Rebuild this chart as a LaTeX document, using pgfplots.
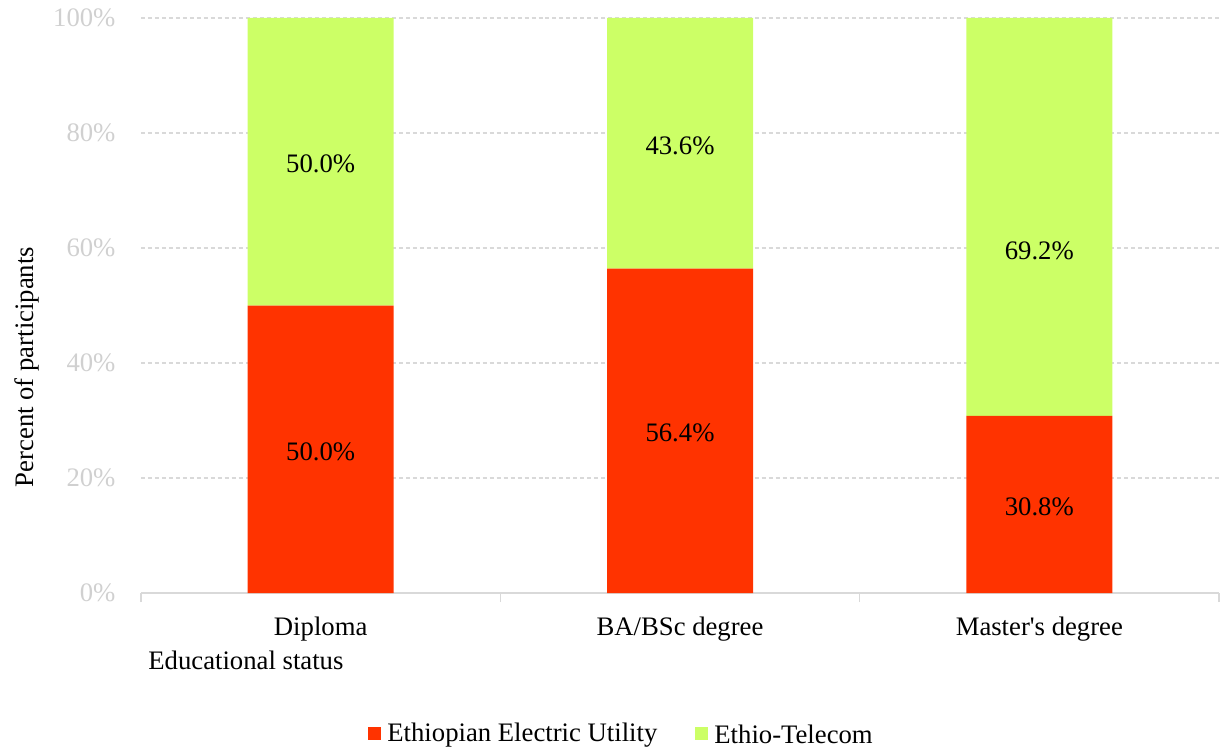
\documentclass[border=0pt]{standalone}
\usepackage{fontspec}
\setmainfont{Liberation Serif}
\usepackage{pgfplots}
\pgfplotsset{compat=1.18}

\definecolor{eeu}{HTML}{FF3300}
\definecolor{etel}{HTML}{CCFF66}
\definecolor{axgray}{HTML}{D9D9D9}
\definecolor{ticktxt}{HTML}{D0D0D0}

\newcommand\lblfont{\fontsize{13.4}{15}\selectfont}

\pgfplotsset{
  frame/.style={
    at={(70.5bp,77.5bp)}, anchor=south west,
    scale only axis, width=539bp, height=287.5bp,
    xmin=-0.5, xmax=2.5, ymin=0, ymax=100, clip=false,
  },
}

\begin{document}
\begin{tikzpicture}[x=1bp,y=1bp]
\useasboundingbox (0,0) rectangle (610.5,374);
\begin{axis}[
  frame,
  ybar stacked, bar width=73bp,
  axis x line*=bottom, axis y line*=left,
  x axis line style={axgray, line width=0.8pt, -},
  y axis line style={draw=none},
  xtick={0,1,2},
  xticklabels={Diploma, BA/BSc degree, Master\textquotesingle s degree},
  major x tick style={draw=none},
  minor xtick={-0.5,0.5,1.5,2.5},
  minor x tick style={axgray, line width=0.8pt},
  minor tick length=4.5bp,
  tick align=outside,
  xticklabel style={font=\lblfont, yshift=-4bp},
  ytick={0,20,40,60,80,100},
  major y tick style={draw=none},
  yticklabel={\pgfmathprintnumber{\tick}\%},
  yticklabel style={text=ticktxt, font=\lblfont, xshift=-5bp},
  /pgf/number format/assume math mode=true,
  ymajorgrids,
  major grid style={axgray, dash pattern=on 2pt off 1.5pt, line width=0.6pt},
]
% Ethiopian Electric Utility
\addplot[fill=eeu, draw=none] coordinates {(0,50.0) (1,56.4) (2,30.8)};
% Ethio-Telecom
\addplot[fill=etel, draw=none] coordinates {(0,50.0) (1,43.6) (2,69.2)};
\end{axis}

% value labels inside the segments
\begin{axis}[frame, hide axis]
\addplot[draw=none, mark=none, nodes near coords, point meta=explicit symbolic,
  every node near coord/.append style={anchor=center, font=\lblfont, text=black, yshift=-1.2bp}]
  coordinates {
    (0,25.0) [50.0\%] (0,75.0) [50.0\%]
    (1,28.2) [56.4\%] (1,78.2) [43.6\%]
    (2,15.4) [30.8\%] (2,60.0) [69.2\%]
  };
\end{axis}

\node[rotate=90, font=\lblfont] at (13.5bp,190.5bp) {Percent of participants};
\node[anchor=west, font=\lblfont, inner sep=0pt] at (74bp,44bp) {Educational status};

% legend
\fill[eeu] (184bp,4.2bp) rectangle (190.5bp,10.7bp);
\node[anchor=west, inner sep=0pt, font=\lblfont] at (193.5bp,6.6bp) {Ethiopian Electric Utility};
\fill[etel] (347.5bp,4.2bp) rectangle (354bp,10.7bp);
\node[anchor=west, inner sep=0pt, font=\lblfont] at (357bp,6.6bp) {Ethio-Telecom};
\end{tikzpicture}
\end{document}
